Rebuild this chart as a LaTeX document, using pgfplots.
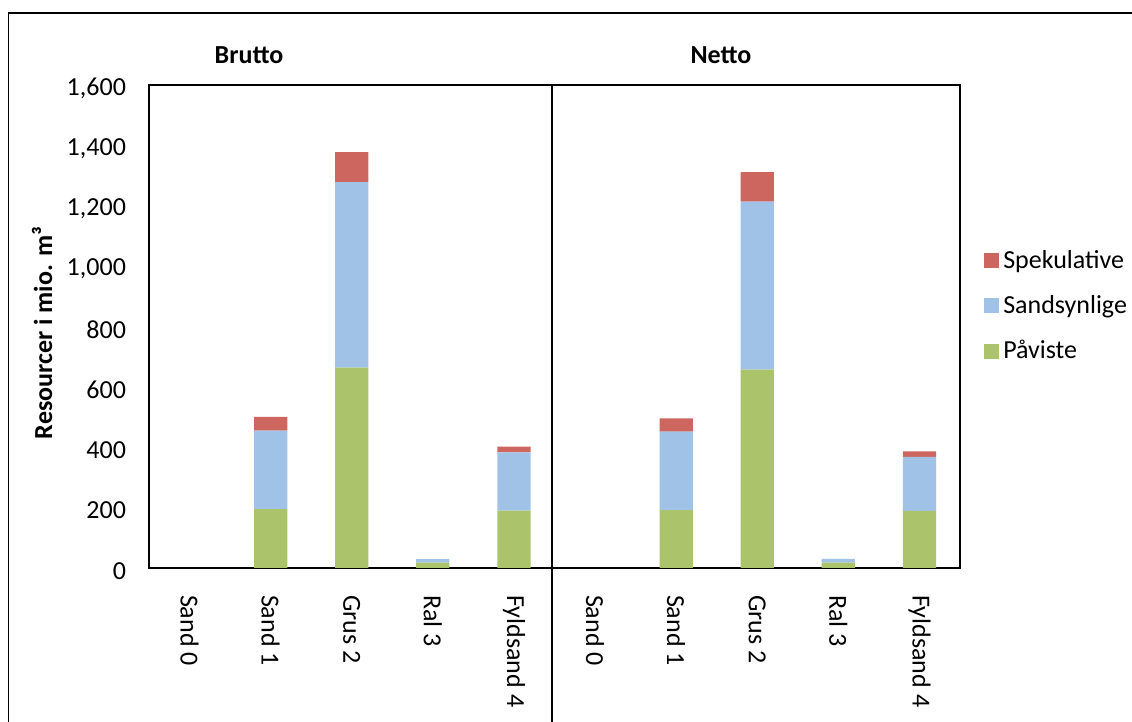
\documentclass[border=0pt]{standalone}
\usepackage{pgfplots}
\pgfplotsset{compat=1.18}
\usepackage{pgfplotstable}
\usepackage{fontspec}
\setmainfont{Carlito}

\definecolor{spek}{RGB}{205,102,95}
\definecolor{sand}{RGB}{159,194,230}
\definecolor{paav}{RGB}{171,196,107}

% x = category slot (0-4 Brutto, 5-9 Netto)
\pgfplotstableread{
x paav sand spek
0 0   0   0
1 195 260 46
2 664 614 100
3 18  11  0
4 190 193 19
5 0   0   0
6 192 260 44
7 657 557 97
8 18  12  0
9 189 179 18
}\ressourcer

\begin{document}
\begin{tikzpicture}[x=1pt,y=1pt,font=\fontsize{13}{15.6}\selectfont]
\useasboundingbox (0,0) rectangle (566,361);
% outer frame
\draw[line width=0.9pt] (4.2,-5) -- (4.2,354.5) -- (575,354.5);
\begin{axis}[
  at={(74.5pt,77pt)}, anchor=south west,
  scale only axis, width=405.5pt, height=241.5pt,
  ybar stacked, bar width=0.41,
  xmin=-0.5, xmax=9.5, ymin=0, ymax=1600,
  xtick={0,...,9},
  xticklabels={Sand 0,Sand 1,Grus 2,Ral 3,Fyldsand 4,Sand 0,Sand 1,Grus 2,Ral 3,Fyldsand 4},
  x tick label style={rotate=-90, anchor=west},
  xticklabel shift=10pt,
  ytick={0,200,...,1600},
  yticklabel shift=8pt,
  y tick label style={yshift=-1.5pt},
  major tick length=0pt,
  /pgf/number format/1000 sep={,},
  /pgf/number format/assume math mode=true,
  axis line style={line width=0.85pt},
  reverse legend,
  legend cell align=left,
  legend style={at={(axis description cs:1.022,0.675)}, anchor=north west,
    draw=none, fill=none, row sep=8pt,
    /tikz/every even column/.append style={column sep=2pt}},
  legend image code/.code={\path[#1,draw=none] (0pt,-3.75pt) rectangle (7.5pt,3.75pt);},
]
\addplot[fill=paav, draw=none] table[x=x, y=paav] {\ressourcer};
\addplot[fill=sand, draw=none] table[x=x, y=sand] {\ressourcer};
\addplot[fill=spek, draw=none] table[x=x, y=spek] {\ressourcer};
\legend{Påviste,Sandsynlige,Spekulative}
\coordinate (dtop) at (axis cs:4.47,1600);
\end{axis}
% divider between Brutto and Netto
\draw[line width=0.9pt] (dtop) -- (dtop |- 0,-5);
\node[font=\fontsize{13}{15.6}\selectfont\bfseries] at (124.5,333.5) {Brutto};
\node[font=\fontsize{13}{15.6}\selectfont\bfseries] at (360.5,333.5) {Netto};
\node[rotate=90, font=\fontsize{13}{15.6}\selectfont\bfseries] at (21,194.5) {Resourcer i mio. m³};
\end{tikzpicture}
\end{document}
